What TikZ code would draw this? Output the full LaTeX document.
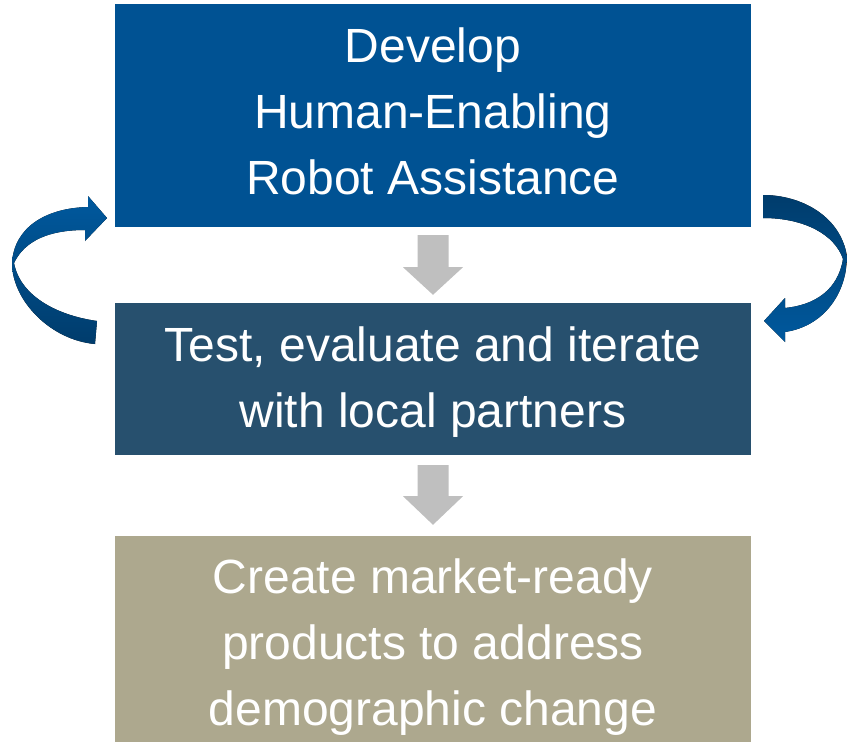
\documentclass[tikz,border=0pt]{standalone}
\usepackage{fontspec}
\setmainfont{Liberation Sans}
\usetikzlibrary{calc}
\definecolor{boxone}{HTML}{005293}
\definecolor{boxtwo}{HTML}{27506E}
\definecolor{boxthree}{HTML}{ADA88E}
\definecolor{grayarrow}{HTML}{BFBFBF}
\definecolor{curvelight}{HTML}{00599E}
\definecolor{curvedark}{HTML}{003C6C}
\begin{document}
\begin{tikzpicture}[x=1pt,y=-1pt,
  stagebox/.style={rectangle, minimum width=636pt, inner sep=0pt, text=white,
    align=center, font=\fontsize{48}{66}\selectfont},
  flowarrow/.style={fill=grayarrow},
  loopleft/.style={top color=curvelight, bottom color=curvedark},
  loopright/.style={top color=curvedark, bottom color=curvelight}]
\useasboundingbox (0,0) rectangle (847,742);

\node[stagebox, fill=boxone, minimum height=223pt] (develop) at (433,115.5)
  {Develop\\Human-Enabling\\Robot Assistance\rule[-8pt]{0pt}{0pt}};
\node[stagebox, fill=boxtwo, minimum height=152pt] (test) at (433,379)
  {\rule{0pt}{41pt}Test, evaluate and iterate\\with local partners};
\node[stagebox, fill=boxthree, minimum height=223pt] (create) at (433,647.5)
  {Create market-ready\\products to address\\demographic change};

% gray block arrows
\fill[flowarrow] ($(develop.south)+(-15.5,8)$) -- ($(develop.south)+(15.5,8)$)
  -- ($(develop.south)+(15.5,40)$) -- ($(develop.south)+(30,40)$)
  -- ($(test.north)+(0,-8)$) -- ($(develop.south)+(-30,40)$)
  -- ($(develop.south)+(-15.5,40)$) -- cycle;
\fill[flowarrow] ($(test.south)+(-15.5,10)$) -- ($(test.south)+(15.5,10)$)
  -- ($(test.south)+(15.5,41)$) -- ($(test.south)+(30,41)$)
  -- ($(create.north)+(0,-11)$) -- ($(test.south)+(-30,41)$)
  -- ($(test.south)+(-15.5,41)$) -- cycle;

% left curved ribbon arrow (from test back to develop)
\fill[loopleft] (97,321) .. controls (55,315) and (20,295) .. (14,263)
  .. controls (25,240) and (50,230) .. (85,230)
  -- (85,241) -- (107,218) -- (88,196) -- (88,207)
  .. controls (45,208) and (14,228) .. (12,263)
  .. controls (12,300) and (50,340) .. (95,344) -- cycle;

% right curved ribbon arrow (from develop to test)
\fill[loopright] (763,195) .. controls (800,195) and (840,215) .. (847,256)
  .. controls (847,292) and (825,326) .. (785,332)
  -- (785,342) -- (764,321) -- (785,298) -- (785,308)
  .. controls (815,305) and (838,290) .. (843,259)
  .. controls (835,235) and (805,218) .. (763,218) -- cycle;
\end{tikzpicture}
\end{document}
